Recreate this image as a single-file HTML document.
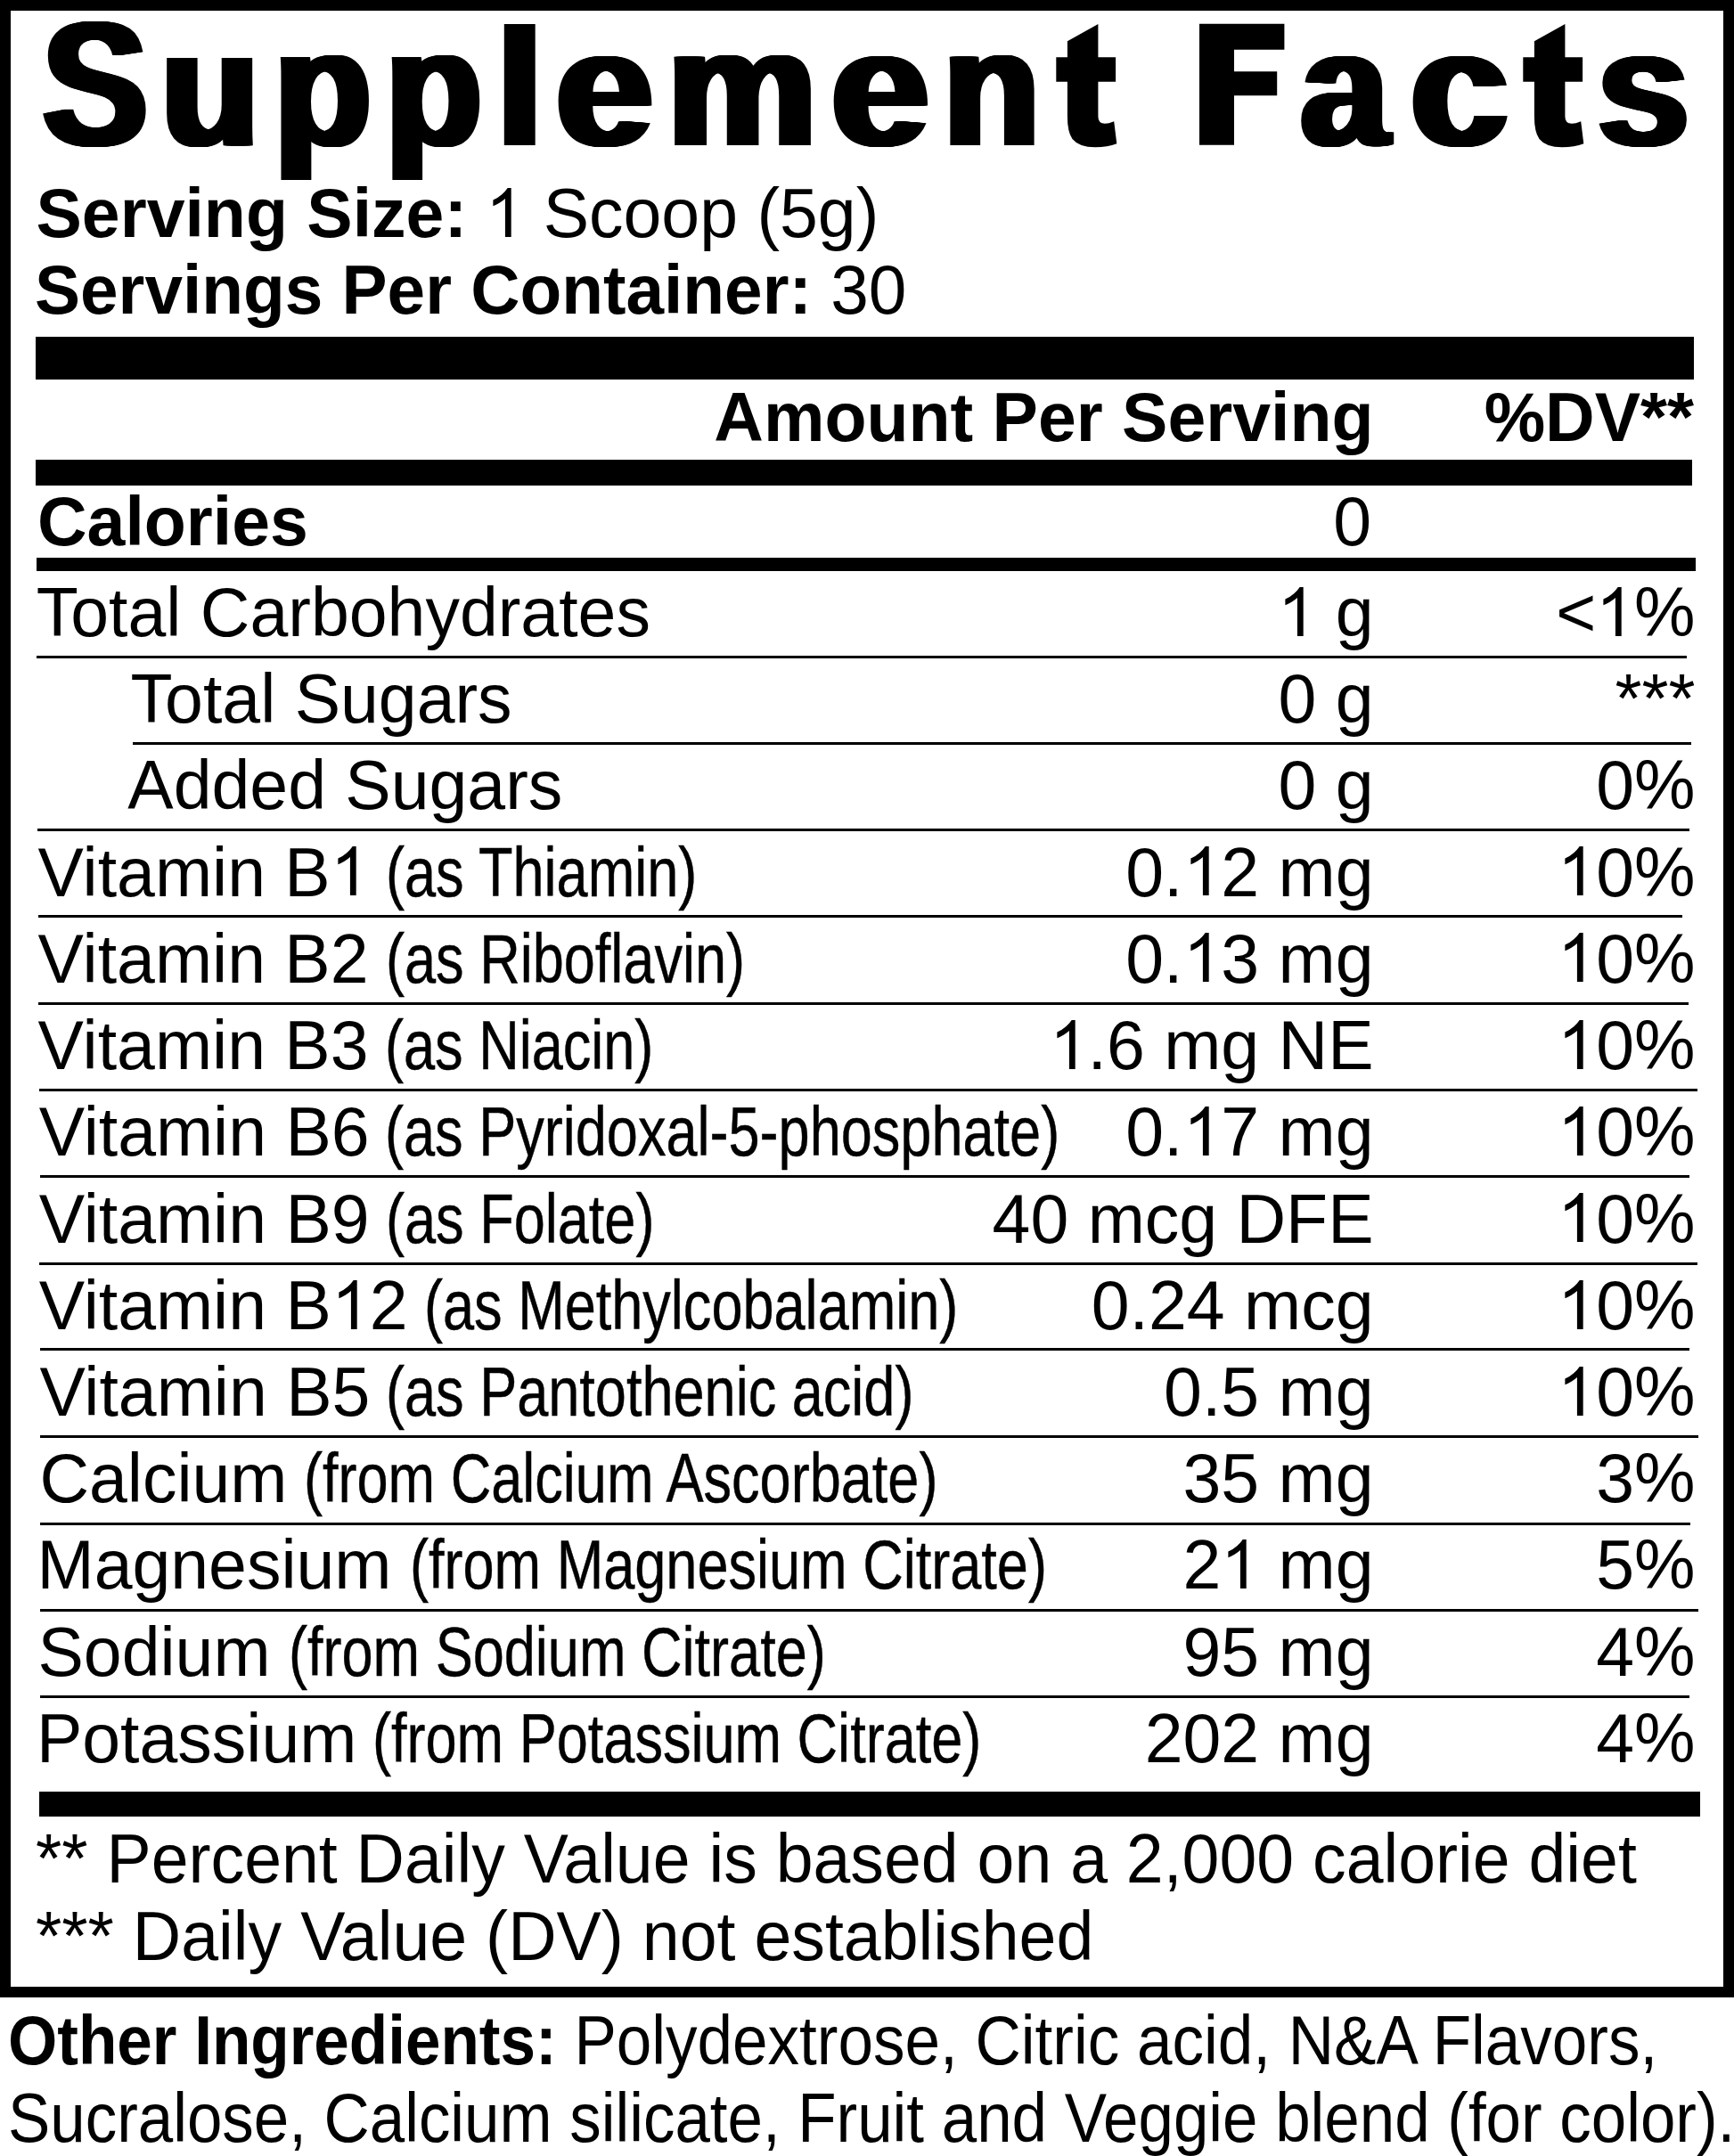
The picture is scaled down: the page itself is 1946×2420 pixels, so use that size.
<!DOCTYPE html>
<html><head><meta charset="utf-8"><title>Supplement Facts</title>
<style>
html,body{margin:0;padding:0;background:#fff;}
body{width:1946px;height:2420px;position:relative;overflow:hidden;font-family:"Liberation Sans",sans-serif;color:#000;}
.box{position:absolute;left:0;top:0;width:1946px;height:2242px;box-sizing:border-box;border:12px solid #000;}
.t{position:absolute;line-height:1;white-space:nowrap;}
.tt{position:absolute;line-height:1;white-space:nowrap;font-size:187px;font-weight:bold;text-shadow:1px 0 #000,2px 0 #000,3px 0 #000,4px 0 #000,5px 0 #000,6px 0 #000,7px 0 #000,8px 0 #000,9px 0 #000,10px 0 #000;transform-origin:0 158px;}
.r{position:absolute;background:#000;}
.ts{position:absolute;fill:#000;}
.d1{width:0.5562em;height:0.7158em;vertical-align:baseline;fill:#000;overflow:visible;}
</style></head><body>
<div class="box"></div>
<div class="tt" style="left:43.02px;top:4.70px;transform:scale(0.9463,1.0603);">S</div>
<div class="tt" style="left:176.44px;top:4.70px;transform:scale(0.9630,0.9949);">u</div>
<div class="tt" style="left:302.57px;top:4.70px;transform:scale(0.9524,0.9980);">p</div>
<div class="tt" style="left:428.15px;top:4.70px;transform:scale(0.9457,0.9980);">p</div>
<div class="tt" style="left:552.55px;top:4.70px;transform:scale(0.9806,1.0007);">l</div>
<div class="tt" style="left:619.10px;top:4.70px;transform:scale(1.0436,0.9911);">e</div>
<div class="tt" style="left:744.41px;top:4.70px;transform:scale(1.0078,1.0000);">m</div>
<div class="tt" style="left:927.65px;top:4.70px;transform:scale(1.0505,0.9911);">e</div>
<div class="tt" style="left:1054.04px;top:4.70px;transform:scale(0.9465,1.0000);">n</div>
<svg class="ts" style="left:1184.50px;top:0px" width="80" height="180" viewBox="0 0 80 180"><path d="M47.4 26.9L47.4 64.3L67.1 64.3L67.1 91.8L47.4 91.8L47.4 130.7Q47.4 138.8 55 138.8Q59 138.8 65.2 136.2L68.3 161.2Q58 165.3 44 165.3Q26 165.3 18.5 156Q12.9 148 12.9 130.7L12.9 91.8L0.3 91.8L0.3 64.3L12.9 64.3L12.9 46.2Z"/></svg>
<svg class="ts" style="left:1346.30px;top:0px" width="100" height="180" viewBox="0 0 100 180"><path d="M0 26.7H95.4V55.8H39V80.2H87.2V107.2H39V162.7H0Z"/></svg>
<div class="tt" style="left:1455.31px;top:4.70px;transform:scale(0.9486,0.9931);">a</div>
<div class="tt" style="left:1578.07px;top:4.70px;transform:scale(1.0475,0.9931);">c</div>
<svg class="ts" style="left:1708.80px;top:0px" width="80" height="180" viewBox="0 0 80 180"><path d="M47.4 26.9L47.4 64.3L67.1 64.3L67.1 91.8L47.4 91.8L47.4 130.7Q47.4 138.8 55 138.8Q59 138.8 65.2 136.2L68.3 161.2Q58 165.3 44 165.3Q26 165.3 18.5 156Q12.9 148 12.9 130.7L12.9 91.8L0.3 91.8L0.3 64.3L12.9 64.3L12.9 46.2Z"/></svg>
<div class="tt" style="left:1788.09px;top:4.70px;transform:scale(0.9869,0.9931);">s</div>
<div class="t" style="left:40.50px;top:200.80px;font-size:77px;"><b>Serving Size:</b> <svg class="d1" viewBox="0 -1466 1139 1466"><path d="M763 0L583 0L583-1147Q518-1085 412.5-1023Q307-961 223-930L223-1104Q374-1175 485.5-1274Q597-1373 657-1466L763-1466Z"/></svg> Scoop (5g)</div>
<div class="t" style="left:38.50px;top:286.80px;font-size:77px;transform:scaleX(0.994);transform-origin:0 0;"><b>Servings Per Container:</b> 30</div>
<div class="r" style="left:40.0px;top:378.0px;width:1861.0px;height:48.0px"></div>
<div class="t" style="right:404.50px;top:429.80px;font-size:77px;font-weight:bold;">Amount Per Serving</div>
<div class="t" style="right:45.00px;top:429.80px;font-size:77px;font-weight:bold;">%DV**</div>
<div class="r" style="left:40.0px;top:516.0px;width:1859.0px;height:29.0px"></div>
<div class="t" style="left:42.00px;top:546.80px;font-size:77px;font-weight:bold;">Calories</div>
<div class="t" style="right:407.00px;top:546.80px;font-size:77px;">0</div>
<div class="r" style="left:41.0px;top:626.0px;width:1862.0px;height:15.0px"></div>
<div class="t" style="left:40.80px;top:648.80px;font-size:77px;">Total Carbohydrates</div>
<div class="t" style="right:404.50px;top:648.80px;font-size:77px;"><svg class="d1" viewBox="0 -1466 1139 1466"><path d="M763 0L583 0L583-1147Q518-1085 412.5-1023Q307-961 223-930L223-1104Q374-1175 485.5-1274Q597-1373 657-1466L763-1466Z"/></svg> g</div>
<div class="t" style="right:43.50px;top:648.80px;font-size:77px;">&lt;<svg class="d1" viewBox="0 -1466 1139 1466"><path d="M763 0L583 0L583-1147Q518-1085 412.5-1023Q307-961 223-930L223-1104Q374-1175 485.5-1274Q597-1373 657-1466L763-1466Z"/></svg>%</div>
<div class="t" style="left:146.60px;top:746.10px;font-size:77px;">Total Sugars</div>
<div class="t" style="right:404.50px;top:746.10px;font-size:77px;">0 g</div>
<div class="t" style="right:43.50px;top:746.10px;font-size:77px;">***</div>
<div class="t" style="left:143.30px;top:843.20px;font-size:77px;">Added Sugars</div>
<div class="t" style="right:404.50px;top:843.20px;font-size:77px;">0 g</div>
<div class="t" style="right:43.50px;top:843.20px;font-size:77px;">0%</div>
<div class="t" style="left:42.60px;top:940.50px;font-size:77px;">Vitamin B<svg class="d1" viewBox="0 -1466 1139 1466"><path d="M763 0L583 0L583-1147Q518-1085 412.5-1023Q307-961 223-930L223-1104Q374-1175 485.5-1274Q597-1373 657-1466L763-1466Z"/></svg></div>
<div class="t" style="left:433.40px;top:940.50px;font-size:77px;transform:scaleX(0.819);transform-origin:0 0;-webkit-text-stroke:0.45px #000;">(as Thiamin)</div>
<div class="t" style="right:404.50px;top:940.50px;font-size:77px;">0.<svg class="d1" viewBox="0 -1466 1139 1466"><path d="M763 0L583 0L583-1147Q518-1085 412.5-1023Q307-961 223-930L223-1104Q374-1175 485.5-1274Q597-1373 657-1466L763-1466Z"/></svg>2 mg</div>
<div class="t" style="right:43.50px;top:940.50px;font-size:77px;"><svg class="d1" viewBox="0 -1466 1139 1466"><path d="M763 0L583 0L583-1147Q518-1085 412.5-1023Q307-961 223-930L223-1104Q374-1175 485.5-1274Q597-1373 657-1466L763-1466Z"/></svg>0%</div>
<div class="t" style="left:42.60px;top:1037.60px;font-size:77px;">Vitamin B2</div>
<div class="t" style="left:433.40px;top:1037.60px;font-size:77px;transform:scaleX(0.819);transform-origin:0 0;-webkit-text-stroke:0.45px #000;">(as Riboflavin)</div>
<div class="t" style="right:404.50px;top:1037.60px;font-size:77px;">0.<svg class="d1" viewBox="0 -1466 1139 1466"><path d="M763 0L583 0L583-1147Q518-1085 412.5-1023Q307-961 223-930L223-1104Q374-1175 485.5-1274Q597-1373 657-1466L763-1466Z"/></svg>3 mg</div>
<div class="t" style="right:43.50px;top:1037.60px;font-size:77px;"><svg class="d1" viewBox="0 -1466 1139 1466"><path d="M763 0L583 0L583-1147Q518-1085 412.5-1023Q307-961 223-930L223-1104Q374-1175 485.5-1274Q597-1373 657-1466L763-1466Z"/></svg>0%</div>
<div class="t" style="left:42.60px;top:1135.00px;font-size:77px;">Vitamin B3</div>
<div class="t" style="left:432.30px;top:1135.00px;font-size:77px;transform:scaleX(0.819);transform-origin:0 0;-webkit-text-stroke:0.45px #000;">(as Niacin)</div>
<div class="t" style="right:404.50px;top:1135.00px;font-size:77px;"><svg class="d1" viewBox="0 -1466 1139 1466"><path d="M763 0L583 0L583-1147Q518-1085 412.5-1023Q307-961 223-930L223-1104Q374-1175 485.5-1274Q597-1373 657-1466L763-1466Z"/></svg>.6 mg NE</div>
<div class="t" style="right:43.50px;top:1135.00px;font-size:77px;"><svg class="d1" viewBox="0 -1466 1139 1466"><path d="M763 0L583 0L583-1147Q518-1085 412.5-1023Q307-961 223-930L223-1104Q374-1175 485.5-1274Q597-1373 657-1466L763-1466Z"/></svg>0%</div>
<div class="t" style="left:43.70px;top:1232.40px;font-size:77px;">Vitamin B6</div>
<div class="t" style="left:432.30px;top:1232.40px;font-size:77px;transform:scaleX(0.819);transform-origin:0 0;-webkit-text-stroke:0.45px #000;">(as Pyridoxal-5-phosphate)</div>
<div class="t" style="right:404.50px;top:1232.40px;font-size:77px;">0.<svg class="d1" viewBox="0 -1466 1139 1466"><path d="M763 0L583 0L583-1147Q518-1085 412.5-1023Q307-961 223-930L223-1104Q374-1175 485.5-1274Q597-1373 657-1466L763-1466Z"/></svg>7 mg</div>
<div class="t" style="right:43.50px;top:1232.40px;font-size:77px;"><svg class="d1" viewBox="0 -1466 1139 1466"><path d="M763 0L583 0L583-1147Q518-1085 412.5-1023Q307-961 223-930L223-1104Q374-1175 485.5-1274Q597-1373 657-1466L763-1466Z"/></svg>0%</div>
<div class="t" style="left:43.70px;top:1329.50px;font-size:77px;">Vitamin B9</div>
<div class="t" style="left:433.30px;top:1329.50px;font-size:77px;transform:scaleX(0.819);transform-origin:0 0;-webkit-text-stroke:0.45px #000;">(as Folate)</div>
<div class="t" style="right:404.50px;top:1329.50px;font-size:77px;">40 mcg DFE</div>
<div class="t" style="right:43.50px;top:1329.50px;font-size:77px;"><svg class="d1" viewBox="0 -1466 1139 1466"><path d="M763 0L583 0L583-1147Q518-1085 412.5-1023Q307-961 223-930L223-1104Q374-1175 485.5-1274Q597-1373 657-1466L763-1466Z"/></svg>0%</div>
<div class="t" style="left:43.70px;top:1426.70px;font-size:77px;">Vitamin B<svg class="d1" viewBox="0 -1466 1139 1466"><path d="M763 0L583 0L583-1147Q518-1085 412.5-1023Q307-961 223-930L223-1104Q374-1175 485.5-1274Q597-1373 657-1466L763-1466Z"/></svg>2</div>
<div class="t" style="left:476.40px;top:1426.70px;font-size:77px;transform:scaleX(0.819);transform-origin:0 0;-webkit-text-stroke:0.45px #000;">(as Methylcobalamin)</div>
<div class="t" style="right:404.50px;top:1426.70px;font-size:77px;">0.24 mcg</div>
<div class="t" style="right:43.50px;top:1426.70px;font-size:77px;"><svg class="d1" viewBox="0 -1466 1139 1466"><path d="M763 0L583 0L583-1147Q518-1085 412.5-1023Q307-961 223-930L223-1104Q374-1175 485.5-1274Q597-1373 657-1466L763-1466Z"/></svg>0%</div>
<div class="t" style="left:44.40px;top:1523.80px;font-size:77px;">Vitamin B5</div>
<div class="t" style="left:432.90px;top:1523.80px;font-size:77px;transform:scaleX(0.819);transform-origin:0 0;-webkit-text-stroke:0.45px #000;">(as Pantothenic acid)</div>
<div class="t" style="right:404.50px;top:1523.80px;font-size:77px;">0.5 mg</div>
<div class="t" style="right:43.50px;top:1523.80px;font-size:77px;"><svg class="d1" viewBox="0 -1466 1139 1466"><path d="M763 0L583 0L583-1147Q518-1085 412.5-1023Q307-961 223-930L223-1104Q374-1175 485.5-1274Q597-1373 657-1466L763-1466Z"/></svg>0%</div>
<div class="t" style="left:44.40px;top:1621.10px;font-size:77px;">Calcium</div>
<div class="t" style="left:341.40px;top:1621.10px;font-size:77px;transform:scaleX(0.819);transform-origin:0 0;-webkit-text-stroke:0.45px #000;">(from Calcium Ascorbate)</div>
<div class="t" style="right:404.50px;top:1621.10px;font-size:77px;">35 mg</div>
<div class="t" style="right:43.50px;top:1621.10px;font-size:77px;">3%</div>
<div class="t" style="left:41.50px;top:1718.20px;font-size:77px;">Magnesium</div>
<div class="t" style="left:460.30px;top:1718.20px;font-size:77px;transform:scaleX(0.819);transform-origin:0 0;-webkit-text-stroke:0.45px #000;">(from Magnesium Citrate)</div>
<div class="t" style="right:404.50px;top:1718.20px;font-size:77px;">2<svg class="d1" viewBox="0 -1466 1139 1466"><path d="M763 0L583 0L583-1147Q518-1085 412.5-1023Q307-961 223-930L223-1104Q374-1175 485.5-1274Q597-1373 657-1466L763-1466Z"/></svg> mg</div>
<div class="t" style="right:43.50px;top:1718.20px;font-size:77px;">5%</div>
<div class="t" style="left:42.50px;top:1815.60px;font-size:77px;">Sodium</div>
<div class="t" style="left:324.40px;top:1815.60px;font-size:77px;transform:scaleX(0.819);transform-origin:0 0;-webkit-text-stroke:0.45px #000;">(from Sodium Citrate)</div>
<div class="t" style="right:404.50px;top:1815.60px;font-size:77px;">95 mg</div>
<div class="t" style="right:43.50px;top:1815.60px;font-size:77px;">4%</div>
<div class="t" style="left:40.90px;top:1912.70px;font-size:77px;">Potassium</div>
<div class="t" style="left:417.50px;top:1912.70px;font-size:77px;transform:scaleX(0.819);transform-origin:0 0;-webkit-text-stroke:0.45px #000;">(from Potassium Citrate)</div>
<div class="t" style="right:404.50px;top:1912.70px;font-size:77px;">202 mg</div>
<div class="t" style="right:43.50px;top:1912.70px;font-size:77px;">4%</div>
<div class="r" style="left:41.0px;top:736.0px;width:1852.0px;height:3.0px"></div>
<div class="r" style="left:149.0px;top:833.0px;width:1749.0px;height:3.0px"></div>
<div class="r" style="left:42.0px;top:930.0px;width:1854.0px;height:3.0px"></div>
<div class="r" style="left:43.0px;top:1027.0px;width:1845.0px;height:3.0px"></div>
<div class="r" style="left:43.0px;top:1125.0px;width:1852.0px;height:3.0px"></div>
<div class="r" style="left:44.0px;top:1222.0px;width:1861.0px;height:3.0px"></div>
<div class="r" style="left:45.0px;top:1319.0px;width:1851.0px;height:3.0px"></div>
<div class="r" style="left:44.0px;top:1417.0px;width:1861.0px;height:3.0px"></div>
<div class="r" style="left:45.0px;top:1513.0px;width:1851.0px;height:3.0px"></div>
<div class="r" style="left:45.0px;top:1611.0px;width:1861.0px;height:3.0px"></div>
<div class="r" style="left:45.0px;top:1709.0px;width:1852.0px;height:3.0px"></div>
<div class="r" style="left:45.0px;top:1806.0px;width:1861.0px;height:3.0px"></div>
<div class="r" style="left:45.0px;top:1903.0px;width:1851.0px;height:3.0px"></div>
<div class="r" style="left:44.0px;top:2011.0px;width:1864.0px;height:28.0px"></div>
<div class="t" style="left:40.30px;top:2047.80px;font-size:77px;transform:scaleX(0.977);transform-origin:0 0;">** Percent Daily Value is based on a 2,000 calorie diet</div>
<div class="t" style="left:39.90px;top:2134.80px;font-size:77px;transform:scaleX(0.978);transform-origin:0 0;">*** Daily Value (DV) not established</div>
<div class="t" style="left:9.33px;top:2252.30px;font-size:77px;transform:scaleX(0.9225);transform-origin:0 0;"><b>Other Ingredients:</b> Polydextrose, Citric acid, N&amp;A Flavors,</div>
<div class="t" style="left:8.82px;top:2338.80px;font-size:77px;transform:scaleX(0.9205);transform-origin:0 0;">Sucralose, Calcium silicate, Fruit and Veggie blend (for color).</div>
</body></html>
